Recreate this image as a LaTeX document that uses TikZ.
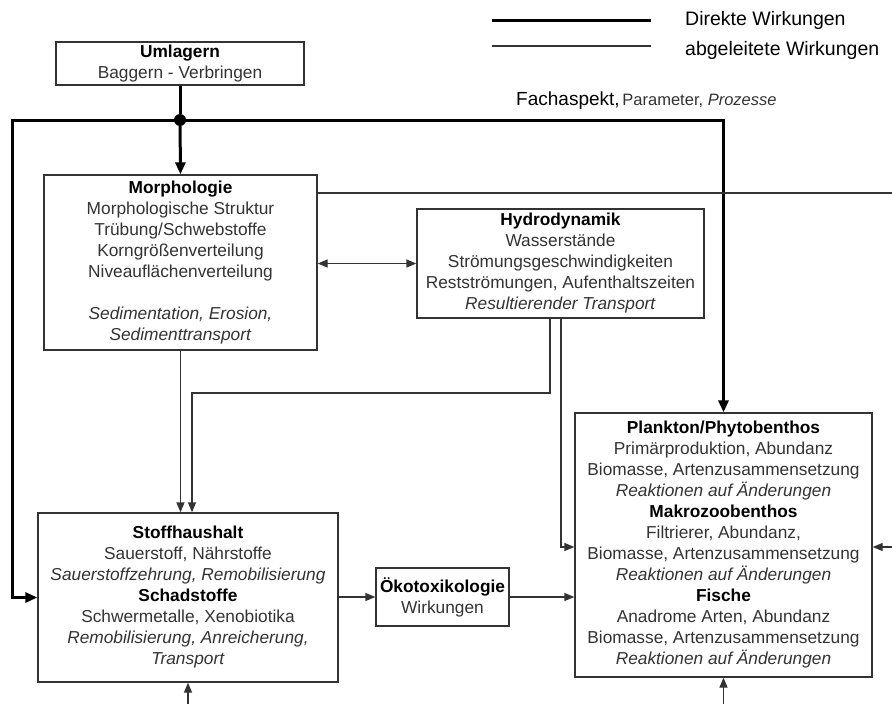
\documentclass[tikz,border=0pt]{standalone}
\usepackage{fontspec}
\setmainfont{Liberation Sans}
\usetikzlibrary{arrows.meta}
\definecolor{txt}{gray}{0.2}
\definecolor{ln}{gray}{0.2}
\tikzset{
  box/.style={draw=ln, line width=1.3pt, fill=white, align=center, inner sep=0pt, text=txt, font=\fontsize{17.3}{21}\selectfont},
  thinln/.style={draw=ln, line width=1.3pt},
  thinarr/.style={thinln, -{Triangle[length=10pt,width=8pt]}},
  dblarr/.style={thinln, {Triangle[length=10pt,width=8pt]}-{Triangle[length=10pt,width=8pt]}},
  thickln/.style={draw=black, line width=3pt},
  thickarr/.style={thickln, -{Triangle[length=12pt,width=10pt]}},
  legtext/.style={anchor=west, inner sep=0pt, font=\fontsize{19.5}{23}\selectfont},
}
\newcommand\hd[1]{{\color{black}\bfseries #1}}
\begin{document}
\begin{tikzpicture}[x=1pt,y=-1pt]
\useasboundingbox (0,0) rectangle (892,704);
\fill[white] (0,0) rectangle (892,704);

% legend
\coordinate (l1a) at (492,20); \coordinate (l1b) at (651,20);
\coordinate (l2a) at (492,46); \coordinate (l2b) at (651,46);
\draw[thickln] (l1a) -- (l1b);
\draw[thinln] (l2a) -- (l2b);
\node[legtext] (lt1) at (685,20) {Direkte Wirkungen};
\node[legtext] (lt2) at (685,50) {abgeleitete Wirkungen};
\node[anchor=west, inner sep=0pt] (fach) at (516,101) {{\fontsize{19}{22}\selectfont Fachaspekt,} {\color{txt}\fontsize{16.5}{20}\selectfont Parameter, \textit{Prozesse}}};

% boxes
\node[box, minimum width=248pt, minimum height=43pt] (uml) at (180,63.5)
  {\hd{Umlagern}\\Baggern - Verbringen};
\node[box, minimum width=273pt, minimum height=175pt] (morph) at (180.5,262.5)
  {\hd{Morphologie}\\Morphologische Struktur\\Trübung/Schwebstoffe\\Korngrößenverteilung\\Niveauflächenverteilung\\[21pt]\textit{Sedimentation, Erosion,}\\\textit{Sedimenttransport}};
\node[box, minimum width=287pt, minimum height=109pt] (hydro) at (560.5,263.5)
  {\hd{Hydrodynamik}\\Wasserstände\\Strömungsgeschwindigkeiten\\Restströmungen, Aufenthaltszeiten\\\textit{Resultierender Transport}};
\node[box, minimum width=300pt, minimum height=169pt] (stoff) at (188,597.5)
  {\hd{Stoffhaushalt}\\Sauerstoff, Nährstoffe\\\textit{Sauerstoffzehrung, Remobilisierung}\\\hd{Schadstoffe}\\Schwermetalle, Xenobiotika\\\textit{Remobilisierung, Anreicherung,}\\\textit{Transport}};
\node[box, minimum width=133pt, minimum height=58pt] (oeko) at (442.5,597)
  {\hd{Ökotoxikologie}\\Wirkungen};
\node[box, minimum width=297pt, minimum height=264pt] (plank) at (723.5,545)
  {\hd{Plankton/Phytobenthos}\\Primärproduktion, Abundanz\\Biomasse, Artenzusammensetzung\\\textit{Reaktionen auf Änderungen}\\\hd{Makrozoobenthos}\\Filtrierer, Abundanz,\\Biomasse, Artenzusammensetzung\\\textit{Reaktionen auf Änderungen}\\\hd{Fische}\\Anadrome Arten, Abundanz\\Biomasse, Artenzusammensetzung\\\textit{Reaktionen auf Änderungen}};

% direct effects (thick)
\node[circle, fill=black, inner sep=0pt, minimum size=12pt] (dot) at (180,120) {};
\coordinate (tl) at (12,120);
\coordinate (tr) at (723.5,120);
\draw[thickln] (uml.south) -- (dot);
\draw[thickarr] (dot) -- (morph.north);
\draw[thickarr] (dot.center) -- (tl) |- (stoff.west);
\draw[thickarr] (dot.center) -- (tr) -- (plank.north);

% derived effects (thin)
\coordinate (redge) at (892,193);
\draw[thinln] (redge -| morph.east) -- (redge);
\draw[dblarr] (morph.east |- hydro.west) -- (hydro.west);
\draw[thinarr] (morph.south) -- (stoff.north -| morph.south);
\coordinate (xa) at (550,393);
\coordinate (xb) at (192,393);
\draw[thinarr] (hydro.south -| xa) -- (xa) -- (xb) -- (stoff.north -| xb);
\coordinate (xc) at (561,547);
\draw[thinarr] (hydro.south -| xc) -- (xc) -- (plank.west |- xc);
\draw[thinarr] (stoff.east |- oeko.west) -- (oeko.west);
\draw[thinarr] (oeko.east) -- (plank.west |- oeko.east);
\coordinate (rin) at (892,547);
\draw[thinarr] (rin) -- (plank.east |- rin);
\coordinate (b1) at (188,704);
\draw[thinarr] (b1) -- (stoff.south -| b1);
\coordinate (b2) at (723.5,704);
\draw[thinarr] (b2) -- (plank.south -| b2);
\end{tikzpicture}
\end{document}
